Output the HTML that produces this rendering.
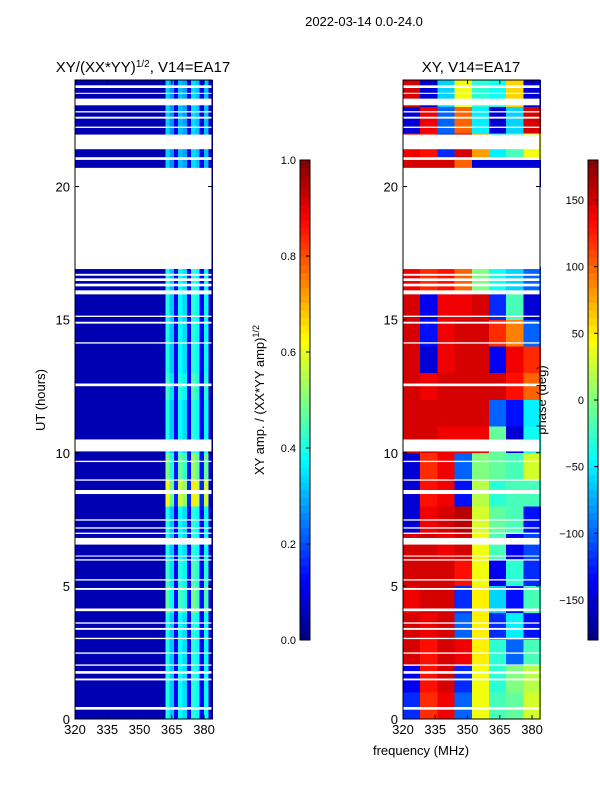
<!DOCTYPE html>
<html><head><meta charset="utf-8"><style>
body{margin:0;background:#fff;font-family:"Liberation Sans",sans-serif}
svg text{font-family:"Liberation Sans",sans-serif}
</style></head><body>
<svg id="fig" width="600" height="800" xmlns="http://www.w3.org/2000/svg">
<text x="364" y="26" font-size="13" text-anchor="middle">2022-03-14 0.0-24.0</text>
<g id="left"></g>
<g id="right"></g>
<g id="cb1"></g>
<g id="cb2"></g>
</svg>
<script>
const hours=[0,1,2,3,4,5,6,7,8,9,10,11,12,13,14,15,16,17,18,19,20,21,22,23];
const ampFreqEdges=[320,322,324,326,328,330,332,334,336,338,340,342,344,346,348,350,352,354,356,358,360,362,364,366,368,370,372,374,376,378,380,382,384];
const ampProfile=[0.05,0.05,0.05,0.05,0.05,0.05,0.05,0.05,0.05,0.05,0.05,0.05,0.05,0.05,0.05,0.05,0.05,0.05,0.05,0.05,0.05,0.4,0.32,0.12,0.38,0.34,0.12,0.42,0.38,0.12,0.38,0.08];
const ampHourScale=[1,1,1,1,1.2,1.1,1,1,1.6,1.3,1,1,1.1,1,1,1,1,1,1,1,0.8,0.8,0.8,0.8];
const phaseFreqEdges=[320,328,336,344,352,360,368,376,384];
const phaseRows=[
[-120,120,140,-100,40,-20,-10,30],[-140,130,150,-120,40,-30,0,20],[150,130,150,140,50,-30,-100,-20],
[150,140,150,-100,50,-120,-50,-130],[140,150,150,-120,50,-60,-130,-20],[150,150,150,130,40,-140,-30,-120],
[150,150,140,150,40,-20,-140,-110],[-150,140,150,160,30,-10,-20,-130],[-150,130,140,-130,20,-30,-20,-20],
[-150,120,140,-100,0,-10,-20,30],[150,150,140,140,140,-10,-150,-40],[150,150,150,150,150,-100,-130,-50],
[150,140,150,150,150,150,130,100],[150,-150,140,150,150,-140,140,120],[150,-130,140,150,150,120,90,-100],
[150,-140,140,140,150,-120,-20,-150],[140,120,130,100,0,-40,-60,-100],null,null,null,
[150,150,150,100,-150,-150,-150,-150],[140,130,-120,150,80,-50,-20,40],[-150,140,-100,100,-50,-150,-60,150],[150,-150,-60,40,-30,-40,60,-150]];
const gaps=[[0.35,0.45],[1.45,1.52],[1.7,1.8],[2.0,2.05],[2.45,2.5],[3.0,3.05],[3.35,3.42],[3.58,3.63],[4.05,4.15],[4.85,4.92],[5.2,5.25],[5.95,6.0],[6.1,6.14],[6.55,6.8],[6.95,7.0],[7.15,7.2],[7.45,7.5],[8.45,8.6],[8.95,9.0],[9.65,9.7],[10.05,10.5],[12.5,12.6],[14.1,14.15],[14.85,14.92],[15.1,15.15],[15.95,16.1],[16.25,16.35],[16.45,16.55],[16.65,16.72],[16.9,20.7],[21.0,21.1],[21.4,21.95],[22.2,22.25],[22.55,22.62],[22.78,22.83],[23.05,23.3],[23.48,23.52],[23.7,23.8]];
const freqTicks=[320,335,350,365,380];
const hourTicks=[0,5,10,15,20];
const ampTicks=[0,0.2,0.4,0.6,0.8,1.0];
const phaseTicks=[-150,-100,-50,0,50,100,150];

const NS="http://www.w3.org/2000/svg";
function el(t,a,p){const e=document.createElementNS(NS,t);for(const k in a)e.setAttribute(k,a[k]);p.appendChild(e);return e;}
function jet(v){v=Math.max(0,Math.min(1,v));const f=x=>Math.round(255*Math.max(0,Math.min(1,1.5-Math.abs(4*v-x))));return `rgb(${f(3)},${f(2)},${f(1)})`;}
const yTop=80,yBot=719;
function yS(h){return yBot-(h/24)*(yBot-yTop);}
const xL=f=>75+(f-320)*(137/63.7);
const xR=f=>403+(f-320)*(137/63.7);
const gl=document.getElementById('left'), gr=document.getElementById('right');
hours.forEach((h,i)=>{for(let j=0;j<ampProfile.length;j++){
  const v=0.05+(ampProfile[j]-0.05)*ampHourScale[i];
  const r=el('rect',{x:xL(ampFreqEdges[j]),y:yS(h+1),width:xL(ampFreqEdges[j+1])-xL(ampFreqEdges[j])+0.3,height:yS(h)-yS(h+1)+0.3,fill:jet(v),'shape-rendering':'crispEdges'},gl);
  
  
}});
hours.forEach((h,i)=>{const row=phaseRows[i];if(!row)return;row.forEach((p,j)=>{
  const r=el('rect',{x:xR(phaseFreqEdges[j]),y:yS(h+1),width:xR(phaseFreqEdges[j+1])-xR(phaseFreqEdges[j])+0.3,height:yS(h)-yS(h+1)+0.3,fill:jet((p+180)/360),'shape-rendering':'crispEdges'},gr);
  
  
});});
[[gl,xL,75,'XY/(XX*YY)','<tspan baseline-shift="super" font-size="10">1/2</tspan>, V14=EA17'],[gr,xR,403,'XY, V14=EA17','']].forEach(([g,xs,x0,t,t2])=>{
  gaps.forEach(gp=>{const r=el('rect',{x:x0,y:yS(gp[1]),width:137,height:yS(gp[0])-yS(gp[1]),fill:'#fff'},g);
    });
  el('rect',{x:x0,y:yTop,width:137,height:yBot-yTop,fill:'none',stroke:'#000','stroke-width':1},g);
  freqTicks.forEach(f=>{const x=xs(f);el('line',{x1:x,x2:x,y1:yBot,y2:yBot-4,stroke:'#000'},g);el('line',{x1:x,x2:x,y1:yTop,y2:yTop+4,stroke:'#000'},g);
    const tx=el('text',{x:x,y:yBot+15,'font-size':13,'text-anchor':'middle'},g);tx.textContent=f;});
  hourTicks.forEach(h=>{const y=yS(h);el('line',{x1:x0,x2:x0+4,y1:y,y2:y,stroke:'#000'},g);el('line',{x1:x0+133,x2:x0+137,y1:y,y2:y,stroke:'#000'},g);
    const tx=el('text',{x:x0-5,y:y+5,'font-size':13,'text-anchor':'end'},g);tx.textContent=h;});
  const tt=el('text',{x:x0+68,y:72,'font-size':15,'text-anchor':'middle'},g);tt.innerHTML=t+t2;
  
});
let yl=el('text',{x:45,y:400,'font-size':13,'text-anchor':'middle',transform:'rotate(-90 45 400)'},gl);yl.textContent='UT (hours)';

let xl=el('text',{x:421,y:755,'font-size':13,'text-anchor':'middle'},gr);xl.textContent='frequency (MHz)';

function cbar(g,x0,min,max,ticks,fmt,label,lx){
  const y0=160,y1=640,N=64;
  for(let i=0;i<N;i++){el('rect',{x:x0,y:y1-(i+1)*(y1-y0)/N,width:10,height:(y1-y0)/N+0.5,fill:jet((i+0.5)/N),'shape-rendering':'crispEdges'},g);}
  el('rect',{x:x0,y:y0,width:10,height:y1-y0,fill:'none',stroke:'#000'},g);
  ticks.forEach(t=>{const y=y1-(t-min)/(max-min)*(y1-y0);el('line',{x1:x0+10,x2:x0+6,y1:y,y2:y,stroke:'#000'},g);
    const tx=el('text',{x:x0-4,y:y+4,'font-size':11,'text-anchor':'end'},g);tx.textContent=fmt(t);
    });
  const l=el('text',{x:lx,y:400,'font-size':13,'text-anchor':'middle',transform:`rotate(-90 ${lx} 400)`},g);l.innerHTML=label;
  
}
cbar(document.getElementById('cb1'),300,0,1,ampTicks,t=>t.toFixed(1),'XY amp. / (XX*YY amp)<tspan baseline-shift="super" font-size="9">1/2</tspan>',264);
cbar(document.getElementById('cb2'),588,-180,180,phaseTicks,t=>t<0?'\u2212'+(-t):String(t),'phase (deg)',546);
</script>
</body></html>
